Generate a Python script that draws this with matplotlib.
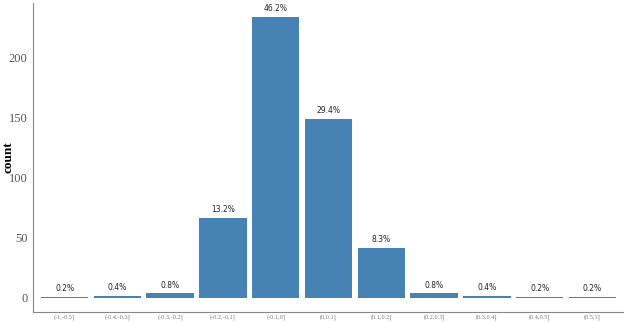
import numpy as np
import matplotlib
matplotlib.use("Agg")
import matplotlib.pyplot as plt

# ── data ──────────────────────────────────────────────
categories = ["(-1,-0.5]", "(-0.4,-0.3]", "(-0.3,-0.2]", "(-0.2,-0.1]", "(-0.1,0]",
              "(0,0.1]", "(0.1,0.2]", "(0.2,0.3]", "(0.3,0.4]", "(0.4,0.5]", "(0.5,1]"]
counts = [1, 2, 4, 67, 234, 149, 42, 4, 2, 1, 1]
pct_labels = ["0.2%", "0.4%", "0.8%", "13.2%", "46.2%", "29.4%", "8.3%",
              "0.8%", "0.4%", "0.2%", "0.2%"]
y_ticks = [0, 50, 100, 150, 200]

fig = plt.figure(figsize=(6.24, 3.23), dpi=100)
ax = fig.add_axes([33 / 624, 11 / 323, 591 / 624, 309 / 323])

x = np.arange(1, len(categories) + 1)
ax.bar(x, counts, width=0.9, color="#4682B4")
for xi, c, lab in zip(x, counts, pct_labels):
    ax.text(xi, c + 3, lab, ha="center", va="bottom", fontsize=5.5,
            family="DejaVu Sans", color="#222222")

ax.set_xlim(0.4, 11.6)
top = max(counts)
ax.set_ylim(-0.05 * top, top * 1.05)
ax.set_xticks(x)
ax.set_xticklabels(categories, fontsize=4.5, family="Liberation Serif", color="#777777")
ax.set_yticks(y_ticks)
ax.set_yticklabels([str(t) for t in y_ticks], fontsize=9, family="Liberation Serif",
                   color="#555555")
ax.tick_params(length=0)
ax.tick_params(axis="y", pad=4)
ax.tick_params(axis="x", pad=1.5)
ax.set_ylabel("count", fontsize=9.5, family="Liberation Serif", weight="semibold")
ax.yaxis.set_label_coords(-19 / 591, 0.5)

for s in ["top", "right"]:
    ax.spines[s].set_visible(False)
for s in ["left", "bottom"]:
    ax.spines[s].set_color("#888888")
    ax.spines[s].set_linewidth(0.8)

fig.savefig("out.png", dpi=100)
